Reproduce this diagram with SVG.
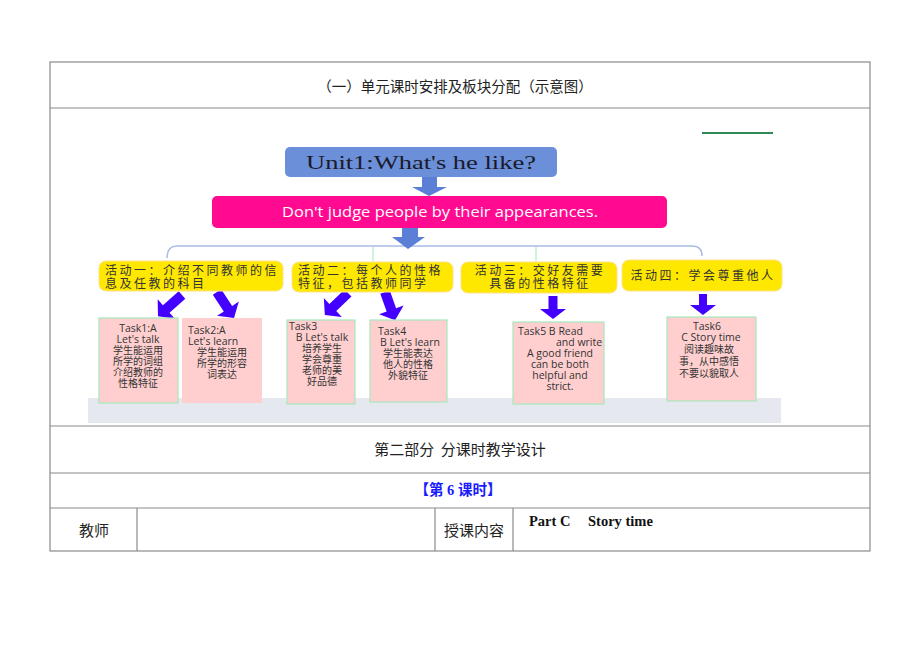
<svg xmlns="http://www.w3.org/2000/svg" width="920" height="651" viewBox="0 0 920 651">
<style>
.tbl{fill:none;stroke:#8a8a8a;stroke-width:1.2}
.cjk{font-family:"Noto Sans CJK SC","Noto Sans",sans-serif;fill:#222}
.yl{fill:#ffe800;stroke:#ffe08a;stroke-width:1}
.yt{font-family:"Noto Sans CJK SC",sans-serif;font-size:12px;letter-spacing:2.5px;fill:#333}
.task{fill:#ffcfcf;stroke:#a6e8bc;stroke-width:1.2}
.tt{font-family:"Open Sans","Noto Sans CJK SC",sans-serif;font-size:10.5px;fill:#333}
.tc{font-family:"Noto Sans CJK SC",sans-serif;font-size:10px;fill:#333}
.va{fill:#4400ff}
.ba{fill:#5b7fd6}
</style>
<rect width="920" height="651" fill="#ffffff"/>

<!-- table -->
<g id="table">
<rect class="tbl" x="50" y="62" width="820" height="489"/>
<line class="tbl" x1="50" y1="108" x2="870" y2="108"/>
<line class="tbl" x1="50" y1="426" x2="870" y2="426"/>
<line class="tbl" x1="50" y1="473" x2="870" y2="473"/>
<line class="tbl" x1="50" y1="508" x2="870" y2="508"/>
<line class="tbl" x1="137" y1="508" x2="137" y2="551"/>
<line class="tbl" x1="435" y1="508" x2="435" y2="551"/>
<line class="tbl" x1="513" y1="508" x2="513" y2="551"/>
<text class="cjk" x="455" y="92" font-size="14.5" text-anchor="middle">（一）单元课时安排及板块分配（示意图）</text>
<text class="cjk" x="460" y="455" font-size="15" text-anchor="middle" fill="#333">第二部分&#160; 分课时教学设计</text>
<text x="458" y="495" font-size="14.5" font-weight="bold" text-anchor="middle" fill="#1a1aff" font-family="'Liberation Serif','Noto Sans CJK SC',serif">【第 6 课时】</text>
<text class="cjk" x="94" y="536" font-size="15" text-anchor="middle">教师</text>
<text class="cjk" x="474" y="536" font-size="15" text-anchor="middle">授课内容</text>
<text x="529" y="526" font-size="14.5" font-weight="bold" fill="#111" font-family="'Liberation Serif',serif">Part C</text>
<text x="588" y="526" font-size="14.5" font-weight="bold" fill="#111" font-family="'Liberation Serif',serif">Story time</text>
</g>

<!-- background strip and decoration -->
<rect x="88" y="398" width="693" height="25" fill="#e6e8f0"/>
<line x1="702" y1="133" x2="773" y2="133" stroke="#2e8b57" stroke-width="2"/>

<!-- connectors -->
<g id="connectors">
<path d="M167,258 Q167,246 177,246 L692,246 Q702,246 702,256" fill="none" stroke="#a8bce4" stroke-width="1.5"/>
<line x1="373" y1="247" x2="373" y2="261" stroke="#9ee6b8" stroke-width="1"/>
<line x1="536" y1="247" x2="536" y2="261" stroke="#9ee6b8" stroke-width="1"/>
<polygon class="ba" points="422,176 437,176 437,187 447,187 429,196 412,187 422,187"/>
<polygon class="ba" points="402,227 418,227 418,237 425,237 408,249 392,237 402,237"/>
<g class="va">
<polygon transform="translate(182,295) rotate(48.6)" points="-5,0 5,0 5,21 13,21 0,32 -13,21 -5,21"/>
<polygon transform="translate(217,292) rotate(-33.3)" points="-5,0 5,0 5,20 13,20 0,31 -13,20 -5,20"/>
<polygon transform="translate(348,293) rotate(46.3)" points="-5,0 5,0 5,21 13,21 0,32 -13,21 -5,21"/>
<polygon transform="translate(385,292) rotate(-19.6)" points="-5,0 5,0 5,19 13,19 0,30 -13,19 -5,19"/>
<polygon points="548.5,296 557.5,296 557.5,309 566,309 553,319 540,309 548.5,309"/>
<polygon points="699,294 707,294 707,305 716,305 703,315 690,305 699,305"/>
</g>
</g>

<!-- nodes -->
<g id="unit">
<rect x="285" y="147" width="272" height="30" rx="5" fill="#6b8fd8"/>
<text x="421" y="169" font-size="19" text-anchor="middle" fill="#1a1a2a" font-family="'Liberation Serif',serif" textLength="230" lengthAdjust="spacingAndGlyphs">Unit1:What's he like?</text>
</g>
<g id="theme">
<rect x="212" y="196" width="455" height="32" rx="5" fill="#ff0a90"/>
<text x="282" y="217" font-size="14" fill="#ffffff" font-family="'Open Sans',sans-serif" textLength="316" lengthAdjust="spacingAndGlyphs">Don't judge people by their appearances.</text>
</g>

<g id="act1">
<rect class="yl" x="99" y="261" width="184" height="30" rx="7"/>
<text class="yt" x="105" y="275">活动一：介绍不同教师的信</text>
<text class="yt" x="105" y="288">息及任教的科目</text>
</g>
<g id="act2">
<rect class="yl" x="292" y="262" width="161" height="30" rx="7"/>
<text class="yt" x="298" y="275">活动二：每个人的性格</text>
<text class="yt" x="298" y="288">特征，包括教师同学</text>
</g>
<g id="act3">
<rect class="yl" x="461" y="262" width="156" height="31" rx="7"/>
<text class="yt" x="540" y="275" text-anchor="middle">活动三：交好友需要</text>
<text class="yt" x="540" y="288" text-anchor="middle">具备的性格特征</text>
</g>
<g id="act4">
<rect class="yl" x="622" y="260" width="160" height="31" rx="7"/>
<text class="yt" x="703" y="280" text-anchor="middle">活动四：学会尊重他人</text>
</g>

<g id="task1">
<rect class="task" x="99" y="318" width="79" height="85"/>
<text class="tt" x="138" y="332" text-anchor="middle">Task1:A</text>
<text class="tt" x="138" y="343" text-anchor="middle">Let's talk</text>
<text class="tc" x="138" y="354" text-anchor="middle">学生能运用</text>
<text class="tc" x="138" y="365" text-anchor="middle">所学的词组</text>
<text class="tc" x="138" y="376" text-anchor="middle">介绍教师的</text>
<text class="tc" x="138" y="387" text-anchor="middle">性格特征</text>
</g>
<g id="task2">
<rect x="182" y="318" width="80" height="85" fill="#ffcfcf"/>
<text class="tt" x="188" y="334">Task2:A</text>
<text class="tt" x="188" y="345">Let's learn</text>
<text class="tc" x="222" y="356" text-anchor="middle">学生能运用</text>
<text class="tc" x="222" y="367" text-anchor="middle">所学的形容</text>
<text class="tc" x="222" y="378" text-anchor="middle">词表达</text>
</g>
<g id="task3">
<rect class="task" x="287" y="320" width="68" height="84"/>
<text class="tt" x="289" y="330">Task3</text>
<text class="tt" x="322" y="341" text-anchor="middle">B Let's talk</text>
<text class="tc" x="322" y="352" text-anchor="middle">培养学生</text>
<text class="tc" x="322" y="363" text-anchor="middle">学会尊重</text>
<text class="tc" x="322" y="374" text-anchor="middle">老师的美</text>
<text class="tc" x="322" y="385" text-anchor="middle">好品德</text>
</g>
<g id="task4">
<rect class="task" x="370" y="320" width="77" height="82"/>
<text class="tt" x="378" y="335">Task4</text>
<text class="tt" x="410" y="346" text-anchor="middle">B Let's learn</text>
<text class="tc" x="408" y="357" text-anchor="middle">学生能表达</text>
<text class="tc" x="408" y="368" text-anchor="middle">他人的性格</text>
<text class="tc" x="408" y="379" text-anchor="middle">外貌特征</text>
</g>
<g id="task5">
<rect class="task" x="513" y="322" width="91" height="82"/>
<text class="tt" x="518" y="335">Task5 B Read</text>
<text class="tt" x="556" y="346">and write</text>
<text class="tt" x="560" y="357" text-anchor="middle">A good friend</text>
<text class="tt" x="560" y="368" text-anchor="middle">can be both</text>
<text class="tt" x="560" y="379" text-anchor="middle">helpful and</text>
<text class="tt" x="560" y="390" text-anchor="middle">strict.</text>
</g>
<g id="task6">
<rect class="task" x="667" y="317" width="89" height="84"/>
<text class="tt" x="707" y="330" text-anchor="middle">Task6</text>
<text class="tt" x="711" y="341" text-anchor="middle">C Story time</text>
<text class="tc" x="709" y="353" text-anchor="middle">阅读趣味故</text>
<text class="tc" x="709" y="365" text-anchor="middle">事，从中感悟</text>
<text class="tc" x="709" y="377" text-anchor="middle">不要以貌取人</text>
</g>
</svg>
